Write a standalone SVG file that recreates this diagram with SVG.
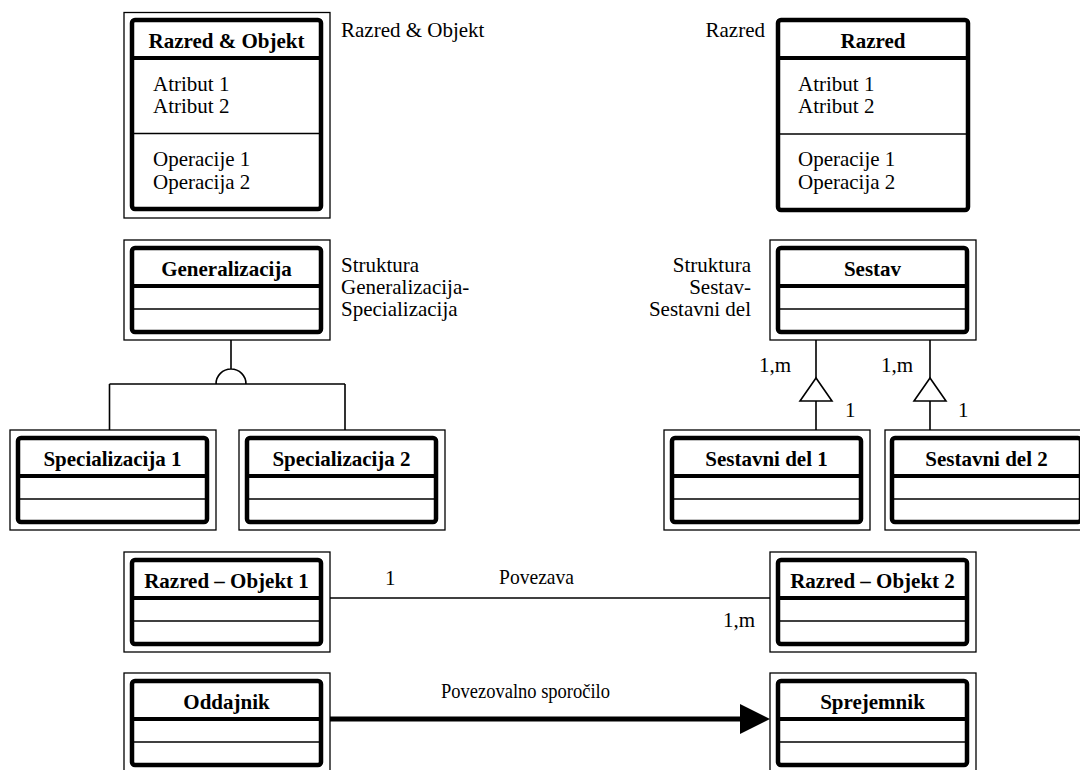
<svg xmlns="http://www.w3.org/2000/svg" width="1080" height="770" viewBox="0 0 1080 770">
  <style>
    .outer { fill: none; stroke: #000; stroke-width: 1.3; }
    .body { fill: #fff; stroke: #000; stroke-width: 4.5; }
    .head { stroke: #000; stroke-width: 4; }
    .sep { stroke: #000; stroke-width: 1.5; }
    .wire { fill: none; stroke: #000; stroke-width: 1.6; }
    .msg { fill: none; stroke: #000; stroke-width: 5; }
    .txt { font-family: "Liberation Serif", "Times New Roman", serif; font-size: 21px; fill: #000; }
    .title { font-weight: bold; text-anchor: middle; }
    .end { text-anchor: end; }
  </style>
  <defs>
    <marker id="arrowhead" markerUnits="userSpaceOnUse" markerWidth="30" markerHeight="30" refX="5" refY="15" orient="auto">
      <path d="M0,0 L30,15 L0,30 Z" fill="#000"/>
    </marker>
  </defs>
  <rect width="1080" height="770" fill="#fff"/>

  <!-- Class & object with attributes and operations -->
  <g id="razred-objekt">
    <rect class="outer" x="124" y="12.5" width="206" height="205.5"/>
    <rect class="body" x="132" y="20" width="189" height="189" rx="3"/>
    <line class="head" x1="132" y1="58" x2="321" y2="58"/>
    <line class="sep" x1="132" y1="133.5" x2="321" y2="133.5"/>
    <text class="txt title" x="226.5" y="48">Razred &amp; Objekt</text>
    <text class="txt" x="153" y="90.5">Atribut 1</text>
    <text class="txt" x="153" y="113">Atribut 2</text>
    <text class="txt" x="153" y="166">Operacije 1</text>
    <text class="txt" x="153" y="188.5">Operacija 2</text>
    <text class="txt" x="341" y="37">Razred &amp; Objekt</text>
  </g>

  <!-- Class only -->
  <g id="razred">
    <rect class="body" x="778" y="20" width="190" height="190" rx="3"/>
    <line class="head" x1="778" y1="58" x2="968" y2="58"/>
    <line class="sep" x1="778" y1="134" x2="968" y2="134"/>
    <text class="txt title" x="873" y="48">Razred</text>
    <text class="txt" x="798" y="90.5">Atribut 1</text>
    <text class="txt" x="798" y="113">Atribut 2</text>
    <text class="txt" x="798" y="166">Operacije 1</text>
    <text class="txt" x="798" y="188.5">Operacija 2</text>
    <text class="txt end" x="765" y="37">Razred</text>
  </g>

  <!-- Generalization / specialization structure -->
  <g id="generalizacija">
    <rect class="outer" x="124" y="240" width="206" height="100"/>
    <rect class="body" x="132" y="248" width="189" height="84" rx="3"/>
    <line class="head" x1="132" y1="286" x2="321" y2="286"/>
    <line class="sep" x1="132" y1="309" x2="321" y2="309"/>
    <text class="txt title" x="226.5" y="275.5">Generalizacija</text>
    <text class="txt" x="341" y="272">Struktura</text>
    <text class="txt" x="341" y="294">Generalizacija-</text>
    <text class="txt" x="341" y="316">Specializacija</text>
  </g>

  <g id="specializacija-1">
    <rect class="outer" x="10" y="430" width="206" height="100"/>
    <rect class="body" x="18" y="438" width="189" height="84" rx="3"/>
    <line class="head" x1="18" y1="476" x2="207" y2="476"/>
    <line class="sep" x1="18" y1="499" x2="207" y2="499"/>
    <text class="txt title" x="112.5" y="465.5">Specializacija 1</text>
  </g>

  <g id="specializacija-2">
    <rect class="outer" x="239" y="430" width="206" height="100"/>
    <rect class="body" x="247" y="438" width="189" height="84" rx="3"/>
    <line class="head" x1="247" y1="476" x2="436" y2="476"/>
    <line class="sep" x1="247" y1="499" x2="436" y2="499"/>
    <text class="txt title" x="341.5" y="465.5">Specializacija 2</text>
  </g>

  <!-- Whole / part structure -->
  <g id="sestav">
    <rect class="outer" x="770" y="240" width="206" height="100"/>
    <rect class="body" x="778" y="248" width="189" height="84" rx="3"/>
    <line class="head" x1="778" y1="286" x2="967" y2="286"/>
    <line class="sep" x1="778" y1="309" x2="967" y2="309"/>
    <text class="txt title" x="872.5" y="275.5">Sestav</text>
    <text class="txt end" x="751" y="272">Struktura</text>
    <text class="txt end" x="751" y="294">Sestav-</text>
    <text class="txt end" x="751" y="316">Sestavni del</text>
  </g>

  <g id="sestavni-del-1">
    <rect class="outer" x="664" y="430" width="206" height="100"/>
    <rect class="body" x="672" y="438" width="189" height="84" rx="3"/>
    <line class="head" x1="672" y1="476" x2="861" y2="476"/>
    <line class="sep" x1="672" y1="499" x2="861" y2="499"/>
    <text class="txt title" x="766.5" y="465.5">Sestavni del 1</text>
  </g>

  <g id="sestavni-del-2">
    <rect class="outer" x="885" y="430" width="206" height="100"/>
    <rect class="body" x="892" y="438" width="189" height="84" rx="3"/>
    <line class="head" x1="892" y1="476" x2="1081" y2="476"/>
    <line class="sep" x1="892" y1="499" x2="1081" y2="499"/>
    <text class="txt title" x="986.5" y="465.5">Sestavni del 2</text>
  </g>

  <!-- Association -->
  <g id="razred-objekt-1">
    <rect class="outer" x="124" y="552" width="206" height="100"/>
    <rect class="body" x="132" y="560" width="189" height="84" rx="3"/>
    <line class="head" x1="132" y1="598" x2="321" y2="598"/>
    <line class="sep" x1="132" y1="621" x2="321" y2="621"/>
    <text class="txt title" x="226.5" y="587.5">Razred – Objekt 1</text>
  </g>

  <g id="razred-objekt-2">
    <rect class="outer" x="770" y="552" width="206" height="100"/>
    <rect class="body" x="778" y="560" width="189" height="84" rx="3"/>
    <line class="head" x1="778" y1="598" x2="967" y2="598"/>
    <line class="sep" x1="778" y1="621" x2="967" y2="621"/>
    <text class="txt title" x="872.5" y="587.5">Razred – Objekt 2</text>
  </g>

  <!-- Message connection -->
  <g id="oddajnik">
    <rect class="outer" x="124" y="673" width="206" height="104"/>
    <rect class="body" x="132" y="681" width="189" height="84" rx="3"/>
    <line class="head" x1="132" y1="719" x2="321" y2="719"/>
    <line class="sep" x1="132" y1="742" x2="321" y2="742"/>
    <text class="txt title" x="226.5" y="708.5">Oddajnik</text>
  </g>

  <g id="sprejemnik">
    <rect class="outer" x="770" y="673" width="206" height="104"/>
    <rect class="body" x="778" y="681" width="189" height="84" rx="3"/>
    <line class="head" x1="778" y1="719" x2="967" y2="719"/>
    <line class="sep" x1="778" y1="742" x2="967" y2="742"/>
    <text class="txt title" x="872.5" y="708.5">Sprejemnik</text>
  </g>

  <g id="connectors">
    <!-- generalization fork with semicircle -->
    <path class="wire" d="M231,340 V369 M216,384 A15,15 0 0 1 246,384 M109.5,384 H345 M109.5,384 V430 M345,384 V430"/>
    <!-- whole/part links with open triangles -->
    <path class="wire" d="M816,340 V378 M816,401 V430 M930,340 V378 M930,401 V430"/>
    <path class="wire" fill="#fff" d="M816,378 L800,401 H832 Z"/>
    <path class="wire" fill="#fff" d="M930,378 L914,401 H946 Z"/>
    <text class="txt" x="759" y="372">1,m</text>
    <text class="txt" x="845" y="417">1</text>
    <text class="txt" x="881" y="372">1,m</text>
    <text class="txt" x="958" y="417">1</text>
    <!-- association -->
    <line class="wire" x1="330" y1="598" x2="770" y2="598"/>
    <text class="txt" x="385" y="585">1</text>
    <text class="txt" x="499" y="584" textLength="75" lengthAdjust="spacingAndGlyphs">Povezava</text>
    <text class="txt" x="723" y="627">1,m</text>
    <!-- message arrow -->
    <line class="msg" x1="330" y1="719" x2="745" y2="719" marker-end="url(#arrowhead)"/>
    <text class="txt" x="441" y="698" textLength="169" lengthAdjust="spacingAndGlyphs">Povezovalno sporočilo</text>
  </g>
</svg>
